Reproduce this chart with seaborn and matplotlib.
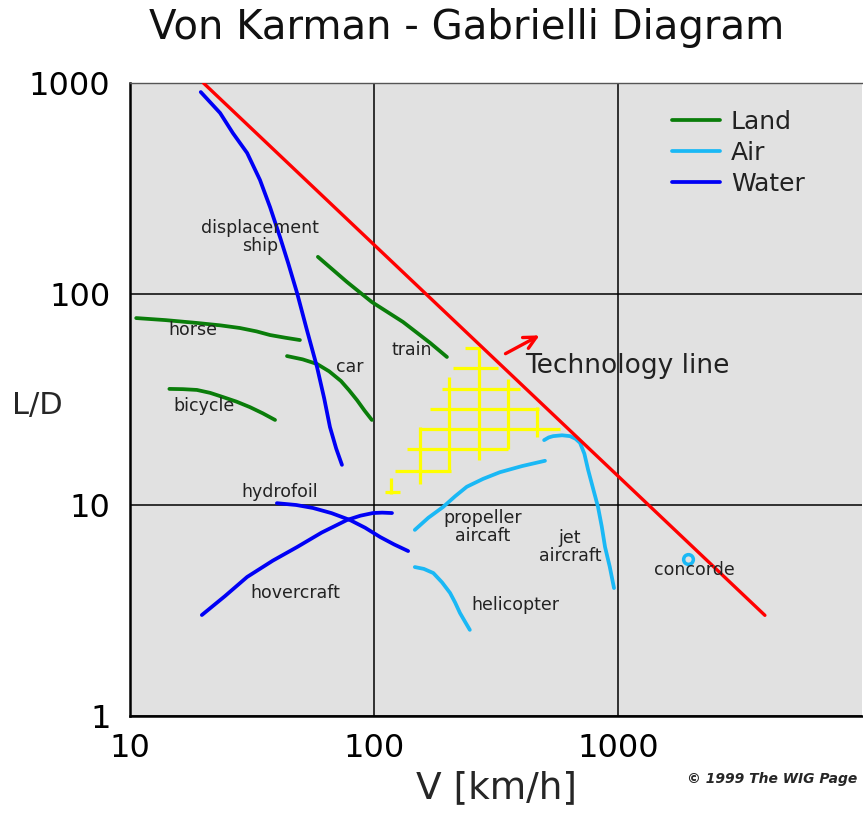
import matplotlib
matplotlib.use("Agg")
import matplotlib.pyplot as plt
import numpy as np
import pandas as pd
import seaborn as sns

# ---- data (V in km/h, L/D) ----
ship_v = [19.5, 23.4, 26.4, 30.2, 34.1, 37.5, 41.2, 44.5, 48.4, 53.0, 58.4, 62.5, 66.0, 70.0, 73.9]
ship_ld = [906, 721, 579, 466, 347, 258, 186, 140, 101, 68.0, 45.1, 32.0, 23.4, 18.5, 15.5]

hydrofoil_v = [40.0, 48.0, 56.2, 67.0, 79.7, 92.0, 106, 121, 138]
hydrofoil_ld = [10.2, 10.0, 9.68, 9.15, 8.49, 7.80, 7.05, 6.50, 6.05]

hovercraft_v = [19.7, 24.5, 30.2, 38.5, 48.4, 61.0, 77.5, 88.0, 99, 108, 118.5]
hovercraft_ld = [3.01, 3.70, 4.56, 5.45, 6.32, 7.40, 8.49, 8.90, 9.16, 9.20, 9.16]

train_v = [58.9, 77.5, 98, 131.5, 170, 199]
train_ld = [150, 114, 91.6, 73.7, 58.6, 50.3]

car_v = [44.0, 51.0, 58.4, 65.5, 73.2, 79.0, 85.2, 91.5, 98]
car_ld = [50.8, 49.0, 46.6, 43.0, 38.7, 35.0, 31.4, 28.0, 25.3]

horse_v = [10.6, 14.0, 18.8, 23.5, 28.2, 33.0, 37.5, 43.5, 49.7]
horse_ld = [76.9, 75.2, 72.9, 71.0, 69.0, 66.5, 63.9, 62.0, 60.5]

bicycle_v = [14.5, 16.5, 18.8, 21.3, 24.0, 27.3, 31.0, 35.0, 39.3]
bicycle_ld = [35.5, 35.4, 35.1, 34.0, 32.5, 30.9, 29.1, 27.2, 25.3]

propeller_v = [147, 167, 192, 215, 240, 280, 328, 405, 502]
propeller_ld = [7.62, 8.70, 9.79, 11.0, 12.2, 13.3, 14.3, 15.3, 16.2]

helicopter_v = [147, 160, 175, 190, 205, 215, 225, 236, 247]
helicopter_ld = [5.08, 4.98, 4.76, 4.30, 3.83, 3.45, 3.08, 2.80, 2.56]

jet_v = [498, 520, 542, 590, 636, 670, 699, 728, 754, 790, 828, 858, 885, 925, 963]
jet_ld = [20.3, 20.9, 21.2, 21.4, 21.2, 20.6, 19.7, 17.5, 14.7, 12.0, 9.79, 7.90, 6.32, 5.10, 4.04]

concorde_v = [1936]
concorde_ld = [5.55]

tech_v = [20, 4000]
tech_ld = [1000, 3]

arrow_v = [338, 488]
arrow_ld = [51.4, 64.6]

# yellow hatched region: horizontal and vertical strokes
hatch_h_y = [55.5, 44.6, 35.5, 28.5, 22.9, 18.4, 14.5, 11.5]
hatch_h_x0 = [236, 211, 190, 170, 153, 137, 122, 111]
hatch_h_x1 = [272, 322, 396, 475, 578, 354, 207, 128]
hatch_v_x = [269, 203, 354, 154, 466, 117]
hatch_v_y0 = [16.3, 14.4, 18.4, 12.6, 21.0, 11.3]
hatch_v_y1 = [55.5, 40.4, 39.5, 23.4, 29.1, 13.4]

kinds = ["Land", "Air", "Water"]
kind_colors = ["#0a7d0a", "#1ab8f5", "#0000f5"]

labels = ["displacement\nship", "horse", "car", "train", "bicycle", "hydrofoil",
          "hovercraft", "propeller\naircaft", "jet\naircraft", "helicopter", "concorde"]
label_v = [34.1, 18.1, 79.7, 143, 20.1, 41.2, 47.5, 280, 636, 378, 2047]
label_ld = [186, 67.5, 45.1, 54.3, 29.5, 11.5, 3.83, 7.87, 6.32, 3.36, 4.92]

curves = [
    ("displacement ship", "Water", ship_v, ship_ld),
    ("hydrofoil", "Water", hydrofoil_v, hydrofoil_ld),
    ("hovercraft", "Water", hovercraft_v, hovercraft_ld),
    ("train", "Land", train_v, train_ld),
    ("car", "Land", car_v, car_ld),
    ("horse", "Land", horse_v, horse_ld),
    ("bicycle", "Land", bicycle_v, bicycle_ld),
    ("propeller aircraft", "Air", propeller_v, propeller_ld),
    ("helicopter", "Air", helicopter_v, helicopter_ld),
    ("jet aircraft", "Air", jet_v, jet_ld),
]
df = pd.concat([pd.DataFrame({"V": v, "LD": ld, "kind": k, "vehicle": name})
                for name, k, v, ld in curves], ignore_index=True)

sns.set_theme(style="ticks")
plt.rcParams["font.family"] = ["DejaVu Sans"]

fig = plt.figure(figsize=(8.63, 8.14), dpi=100)
ax = fig.add_axes([130 / 863, 98 / 814, 732 / 863, 633 / 814])
ax.set_facecolor("#e1e1e1")
ax.set_xscale("log")
ax.set_yscale("log")
ax.set_xlim(10, 10000)
ax.set_ylim(1, 1000)

ax.grid(True, which="major", color="black", lw=1.1, zorder=0)
ax.minorticks_off()
ax.set_axisbelow(True)

ax.hlines(hatch_h_y, hatch_h_x0, hatch_h_x1, color="#ffff00", lw=2.3, zorder=2)
ax.vlines(hatch_v_x, hatch_v_y0, hatch_v_y1, color="#ffff00", lw=2.3, zorder=2)

sns.lineplot(data=df, x="V", y="LD", hue="kind", units="vehicle", estimator=None,
             sort=False, hue_order=kinds, palette=kind_colors, lw=2.7, ax=ax, zorder=3)
sns.lineplot(x=tech_v, y=tech_ld, color="#ff0000", lw=2.4, ax=ax, zorder=4)
ax.plot(concorde_v, concorde_ld, marker="o", ms=7, mfc="none", mec="#1ab8f5",
        mew=2.5, ls="none", zorder=4)

ax.annotate("", xy=(arrow_v[1], arrow_ld[1]), xytext=(arrow_v[0], arrow_ld[0]),
            arrowprops=dict(arrowstyle="->", color="#ff0000", lw=2.4, mutation_scale=22))
ax.text(415, 45.6, "Technology line", fontsize=19, va="center", ha="left", color="#222222")

for txt, xv, yv in zip(labels, label_v, label_ld):
    ax.text(xv, yv, txt, fontsize=12.5, ha="center", va="center", color="#222222",
            linespacing=1.0, zorder=5)

leg = ax.legend(loc="upper left", bbox_to_anchor=(0.74, 0.958), frameon=False,
                fontsize=18, handlelength=1.92, handletextpad=0.44,
                labelspacing=0.28, borderpad=0, borderaxespad=0, title=None)
for line in leg.get_lines():
    line.set_linewidth(2.7)
for t in leg.get_texts():
    t.set_color("#222222")

ax.set_xticks([10, 100, 1000])
ax.set_xticklabels(["10", "100", "1000"])
ax.set_yticks([1, 10, 100, 1000])
ax.set_yticklabels(["1", "10", "100", "1000"])
ax.tick_params(axis="both", length=0, labelsize=23, colors="black")
ax.tick_params(axis="y", pad=14)
ax.tick_params(axis="x", pad=12)

ax.set_xlabel("V [km/h]", fontsize=27)
ax.xaxis.set_label_coords(0.5, -0.085)
ax.set_ylabel("L/D", fontsize=22, rotation=0, va="center", ha="center")
ax.yaxis.set_label_coords(-0.127, 0.491)

for side in ["left", "bottom"]:
    ax.spines[side].set_color("black")
    ax.spines[side].set_linewidth(1.8)
ax.spines["top"].set_color("#555555")
ax.spines["top"].set_linewidth(1.0)
ax.spines["right"].set_visible(False)

fig.text(467 / 863, 1 - 28 / 814, "Von Karman - Gabrielli Diagram", fontsize=29,
         ha="center", va="center", color="#111111")
fig.text(857 / 863, 1 - 779 / 814, "\u00a9 1999 The WIG Page", fontsize=10,
         fontweight="bold", fontstyle="italic", ha="right", va="center")

fig.savefig("out.png", dpi=100)
